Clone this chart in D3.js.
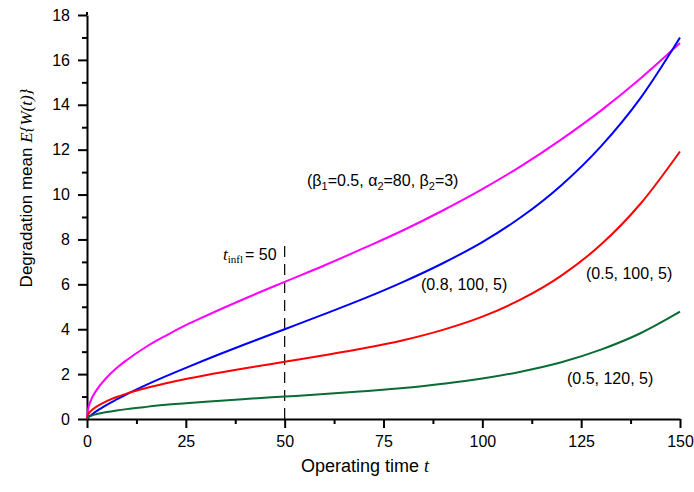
<!DOCTYPE html>
<html>
<head>
<meta charset="utf-8">
<script src="https://cdn.jsdelivr.net/npm/d3@7"></script>
<style>
  body { margin: 0; background: #fff; }
  svg { display: block; }
</style>
</head>
<body>
<div id="chart"></div>
<script>
// Values
var tValues = [0, 0.25, 1, 2.5, 5, 7.5, 10, 15, 20, 25, 30, 40, 50, 60, 70, 80, 90, 100, 110, 120, 130, 140, 150];
var magentaVals = [0, 0.41, 0.83, 1.31, 1.85, 2.27, 2.62, 3.22, 3.72, 4.18, 4.59, 5.37, 6.11, 6.84, 7.61, 8.41, 9.29, 10.24, 11.29, 12.46, 13.74, 15.17, 16.75];
var blueVals = [0, 0.06, 0.17, 0.36, 0.63, 0.87, 1.10, 1.52, 1.91, 2.28, 2.64, 3.33, 4.00, 4.67, 5.36, 6.11, 6.94, 7.88, 9.02, 10.42, 12.15, 14.30, 17.0];
var redVals = [0, 0.18, 0.36, 0.56, 0.80, 0.98, 1.13, 1.38, 1.59, 1.78, 1.95, 2.26, 2.55, 2.84, 3.15, 3.51, 3.97, 4.56, 5.35, 6.39, 7.77, 9.59, 11.92];
var greenVals = [0, 0.07, 0.14, 0.22, 0.31, 0.38, 0.44, 0.54, 0.63, 0.70, 0.77, 0.89, 1.00, 1.11, 1.24, 1.38, 1.57, 1.80, 2.12, 2.53, 3.09, 3.82, 4.78];

var xMajor = [0, 25, 50, 75, 100, 125, 150];
var xMinor = [12.5, 37.5, 62.5, 87.5, 112.5, 137.5];
var yMajor = [0, 2, 4, 6, 8, 10, 12, 14, 16, 18];
var yMinor = [1, 3, 5, 7, 9, 11, 13, 15, 17];
var tInfl = 50, tInflTop = 7.9;

var series = [
  { vals: magentaVals, color: "#ff00ff" },
  { vals: blueVals, color: "#0000ff" },
  { vals: redVals, color: "#ff0000" },
  { vals: greenVals, color: "#0b6b35" }
];

var width = 694, height = 492;
var sans = "'Liberation Sans', Arial, sans-serif";
var serif = "'Liberation Serif', 'Times New Roman', serif";

var svg = d3.select("#chart")
  .append("svg")
  .attr("width", width)
  .attr("height", height);

var x = d3.scaleLinear().domain([0, 150]).range([87, 680]);
var y = d3.scaleLinear().domain([0, 18]).range([419, 15]);

// axes
svg.append("g")
  .attr("transform", "translate(0," + y(0) + ")")
  .call(d3.axisBottom(x).tickValues(xMajor).tickSize(9).tickSizeOuter(0).tickPadding(8));
svg.append("g")
  .attr("transform", "translate(0," + y(0) + ")")
  .call(d3.axisBottom(x).tickValues(xMinor).tickSize(5).tickSizeOuter(0).tickFormat(""))
  .select(".domain").remove();

svg.append("g")
  .attr("transform", "translate(" + x(0) + ",0)")
  .call(d3.axisLeft(y).tickValues(yMajor).tickSize(9).tickSizeOuter(0).tickPadding(8));
svg.append("g")
  .attr("transform", "translate(" + x(0) + ",0)")
  .call(d3.axisLeft(y).tickValues(yMinor).tickSize(5).tickSizeOuter(0).tickFormat(""))
  .select(".domain").remove();

// extend the y axis line a little above 18
svg.append("line")
  .attr("x1", x(0)).attr("x2", x(0))
  .attr("y1", y(18)).attr("y2", y(18) - 3)
  .attr("stroke", "#000").attr("stroke-width", 2);

svg.selectAll(".domain, .tick line")
  .attr("stroke", "#000")
  .attr("stroke-width", 2);
svg.selectAll(".tick text")
  .style("font-family", sans)
  .style("font-size", "16px")
  .style("fill", "#000");

// dashed marker at t_infl
svg.append("line")
  .attr("x1", x(tInfl)).attr("x2", x(tInfl))
  .attr("y1", y(0)).attr("y2", y(tInflTop))
  .attr("stroke", "#000")
  .attr("stroke-width", 1.2)
  .attr("stroke-dasharray", "11,7");

// curves
var line = d3.line()
  .x(function (d) { return x(d[0]); })
  .y(function (d) { return y(d[1]); })
  .curve(d3.curveMonotoneX);

series.forEach(function (s) {
  svg.append("path")
    .datum(tValues.map(function (t, i) { return [t, s.vals[i]]; }))
    .attr("fill", "none")
    .attr("stroke", s.color)
    .attr("stroke-width", 2)
    .attr("d", line);
});

// annotations; parts are plain strings or {s: "subscript"}
function label(px, py, parts) {
  var t = svg.append("text")
    .attr("x", px).attr("y", py)
    .style("font-family", sans)
    .style("font-size", "16px")
    .style("fill", "#000");
  var shift = 0;
  parts.forEach(function (p) {
    if (typeof p === "object") {
      t.append("tspan").attr("dy", 4 - shift).style("font-size", "11px").text(p.s);
      shift = 4;
    } else {
      t.append("tspan").attr("dy", -shift).text(p);
      shift = 0;
    }
  });
  return t;
}

label(307, 186, ["(\u03b2", { s: "1" }, "=0.5, \u03b1", { s: "2" }, "=80, \u03b2", { s: "2" }, "=3)"]);
label(421, 290, ["(0.8, 100, 5)"]);
label(586, 279, ["(0.5, 100, 5)"]);
label(567, 384, ["(0.5, 120, 5)"]);

var tl = svg.append("text")
  .attr("x", 223).attr("y", 260)
  .style("fill", "#000");
tl.append("tspan").style("font-family", serif).style("font-style", "italic").style("font-size", "17px").text("t");
tl.append("tspan").attr("dy", 3).style("font-family", serif).style("font-size", "11px").text("infl");
tl.append("tspan").attr("dy", -3).attr("dx", 2).style("font-family", sans).style("font-size", "16px").text("= 50");

// axis titles
var xt = svg.append("text")
  .attr("x", 365).attr("y", 472)
  .attr("text-anchor", "middle")
  .style("font-family", sans)
  .style("font-size", "18px")
  .style("fill", "#000");
xt.append("tspan").text("Operating time ");
xt.append("tspan").style("font-family", serif).style("font-style", "italic").text("t");

var yt = svg.append("text")
  .attr("transform", "translate(32,188) rotate(-90)")
  .attr("text-anchor", "middle")
  .style("font-family", sans)
  .style("font-size", "17px")
  .style("fill", "#000");
yt.append("tspan").text("Degradation mean ");
yt.append("tspan").style("font-family", serif).style("font-style", "italic").text("E{W(t)}");
</script>
</body>
</html>
